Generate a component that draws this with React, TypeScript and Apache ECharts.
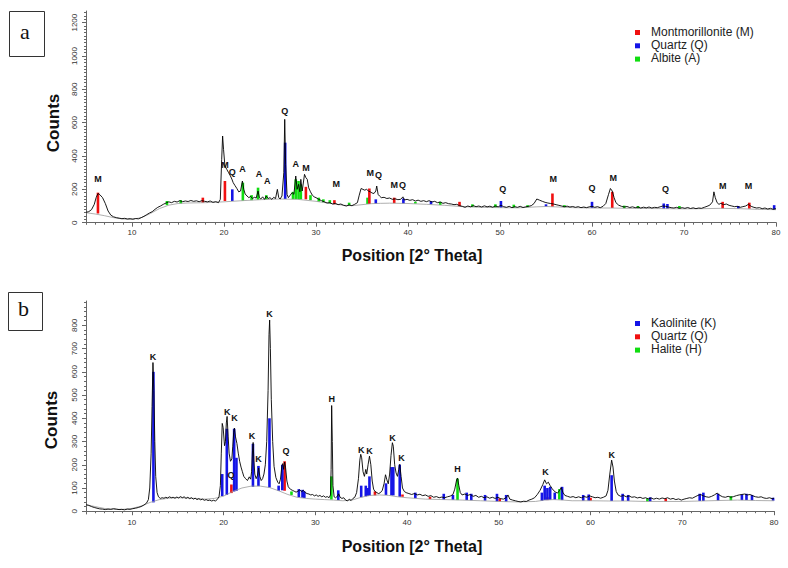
import React, { useEffect, useRef } from "react";
import * as echarts from "echarts";

// ---------- Panel a (Montmorillonite / Quartz / Albite) ----------
const aLine: number[][] = [
  [5.0,62],[5.3,66],[5.6,78],[5.9,110],[6.1,150],[6.3,175],[6.5,168],[6.8,150],[7.1,115],[7.4,70],[7.7,45],[8.0,35],[8.3,30],[8.6,27],[8.9,24],[9.2,26],[9.5,22],[9.8,24],[10.1,21],[10.4,25],[10.7,23],[11.0,30],[11.3,38],[11.6,48],[11.9,58],[12.2,66],[12.5,80],[12.8,92],[13.1,100],[13.4,110],[13.7,118],[14.0,125],[14.3,120],[14.6,128],[14.9,124],[15.2,132],[15.5,126],[15.8,130],[16.1,127],[16.4,133],[16.7,128],[17.0,131],[17.3,126],[17.6,132],[17.9,128],[18.2,125],[18.5,130],[18.8,122],[19.1,126],[19.4,120],[19.6,140],[19.75,380],[19.85,520],[19.95,440],[20.1,340],[20.3,320],[20.5,300],[20.7,280],[20.85,262],[21.0,240],[21.2,222],[21.4,205],[21.6,185],[21.8,190],[22.0,250],[22.15,200],[22.3,172],[22.5,160],[22.7,150],[22.9,158],[23.1,145],[23.3,152],[23.5,148],[23.7,190],[23.85,150],[24.0,142],[24.2,155],[24.4,140],[24.6,160],[24.8,145],[25.0,150],[25.2,140],[25.4,152],[25.6,145],[25.8,200],[25.95,150],[26.1,142],[26.3,160],[26.5,300],[26.6,620],[26.7,350],[26.85,170],[27.0,150],[27.2,165],[27.4,180],[27.6,170],[27.8,280],[27.95,200],[28.1,230],[28.25,185],[28.35,260],[28.5,190],[28.65,250],[28.75,290],[28.9,270],[29.05,260],[29.2,210],[29.4,185],[29.6,165],[29.8,155],[30.0,150],[30.3,140],[30.6,132],[30.9,125],[31.2,118],[31.5,120],[31.8,112],[32.1,116],[32.4,108],[32.7,112],[33.0,104],[33.3,100],[33.6,106],[33.9,102],[34.2,110],[34.5,120],[34.7,165],[34.9,205],[35.1,200],[35.3,195],[35.5,200],[35.7,190],[35.9,185],[36.1,178],[36.3,175],[36.5,190],[36.6,220],[36.75,170],[36.9,160],[37.1,150],[37.4,152],[37.7,145],[38.0,148],[38.3,140],[38.6,143],[38.9,138],[39.2,140],[39.45,155],[39.6,136],[39.9,140],[40.2,134],[40.5,138],[40.8,130],[41.1,135],[41.4,128],[41.7,132],[42.0,126],[42.3,132],[42.6,124],[42.9,128],[43.2,120],[43.5,124],[43.8,116],[44.1,120],[44.4,114],[44.7,112],[45.0,108],[45.3,110],[45.6,102],[45.9,98],[46.2,92],[46.5,100],[46.8,95],[47.1,102],[47.4,96],[47.7,100],[48.0,94],[48.3,101],[48.6,95],[48.9,99],[49.2,93],[49.5,100],[49.8,95],[50.1,104],[50.4,96],[50.7,92],[51.0,98],[51.3,90],[51.6,96],[51.9,92],[52.2,98],[52.5,91],[52.8,95],[53.1,98],[53.4,102],[53.7,115],[54.0,142],[54.3,135],[54.6,128],[54.9,122],[55.2,118],[55.5,115],[55.8,112],[56.1,108],[56.4,104],[56.7,100],[57.0,96],[57.3,99],[57.6,94],[57.9,97],[58.2,92],[58.5,96],[58.8,90],[59.1,94],[59.4,90],[59.7,95],[60.0,98],[60.3,92],[60.6,96],[60.9,90],[61.2,98],[61.5,115],[61.8,170],[62.0,205],[62.2,190],[62.4,150],[62.6,120],[62.9,105],[63.2,98],[63.5,94],[63.8,97],[64.1,91],[64.4,95],[64.7,90],[65.0,94],[65.3,88],[65.6,93],[65.9,89],[66.2,94],[66.5,88],[66.8,92],[67.1,90],[67.4,95],[67.7,100],[68.0,98],[68.3,94],[68.6,90],[68.9,88],[69.2,92],[69.5,86],[69.8,90],[70.1,86],[70.4,91],[70.7,85],[71.0,89],[71.3,84],[71.6,88],[71.9,86],[72.2,92],[72.5,98],[72.8,105],[73.1,125],[73.25,185],[73.4,150],[73.6,120],[73.8,110],[74.0,116],[74.3,108],[74.6,112],[74.9,104],[75.2,100],[75.5,96],[75.8,98],[76.1,92],[76.4,96],[76.7,100],[77.0,110],[77.3,98],[77.6,92],[77.9,88],[78.2,90],[78.5,84],[78.8,88],[79.1,82],[79.4,86],[79.7,80],[80.0,84]
];
const aBackground: number[][] = [
  [5,60],[6,52],[7,42],[8,30],[9,22],[10,20],[11,30],[12,55],[13,85],[14,105],[15,115],[16,118],[18,120],[20,125],[22,132],[24,138],[26,142],[28,140],[30,128],[32,112],[33,104],[34,102],[35,108],[36,114],[37,116],[38,117],[40,115],[42,110],[44,104],[46,96],[48,92],[50,90],[52,89],[54,95],[55,97],[56,95],[58,90],[60,88],[62,88],[64,86],[66,85],[68,84],[70,83],[72,84],[74,86],[76,84],[78,80],[80,78]
];
// sticks: [position, base, top]
const aMontmorillonite: number[][] = [
  [6.3,55,180],[17.7,120,150],[20.1,130,250],[28.9,140,215],[32.0,110,135],[35.8,112,205],[38.5,117,150],[45.6,98,125],[55.7,96,175],[62.2,88,185],[74.2,86,125],[77.1,84,120]
];
const aQuartz: number[][] = [
  [20.9,130,200],[26.65,142,480],[36.5,114,140],[39.5,115,145],[42.5,110,130],[50.1,90,130],[55.0,97,110],[60.0,88,125],[67.8,84,115],[68.2,84,112],[75.9,84,100],[79.8,78,105]
];
const aAlbite: number[][] = [
  [13.8,105,130],[15.3,115,135],[22.05,132,240],[23.0,135,165],[23.7,138,210],[24.6,140,165],[27.5,141,185],[27.8,141,260],[28.1,140,250],[28.35,140,230],[29.4,135,165],[30.3,126,150],[30.8,122,140],[31.5,115,135],[33.6,103,120],[35.6,112,150],[40.8,114,125],[43.5,106,125],[47.0,94,110],[49.5,91,110],[51.5,89,108],[53.0,92,105],[57.0,92,105],[63.5,87,102],[65.0,86,100],[69.5,83,100]
];
const aPeakPos: number[][] = [
  [6.3,260],[20.1,346],[20.9,304],[22.0,320],[23.8,290],[24.7,250],[26.6,670],[27.8,350],[28.9,326],[32.2,234],[35.9,300],[36.8,284],[38.5,224],[39.4,224],[50.3,200],[55.8,260],[60.0,210],[62.3,270],[68.0,200],[74.2,220],[77.0,220]
];
const aPeakText: string[] = ["M","M","Q","A","A","A","Q","A","M","M","M","Q","M","Q","Q","M","Q","M","Q","M","M"];
const aLegend = ["Montmorillonite (M)", "Quartz (Q)", "Albite (A)"];
const aYTicks = [0, 200, 400, 600, 800, 1000, 1200];

// ---------- Panel b (Kaolinite / Quartz / Halite) ----------
const bLine: number[][] = [
  [5.0,28],[5.3,25],[5.6,20],[5.9,16],[6.2,13],[6.5,10],[6.8,9],[7.1,7],[7.4,9],[7.7,8],[8.0,11],[8.3,9],[8.6,7],[8.9,8],[9.2,6],[9.5,9],[9.8,8],[10.1,11],[10.4,13],[10.7,16],[11.0,20],[11.3,26],[11.6,35],[11.8,50],[11.95,100],[12.1,250],[12.2,450],[12.3,640],[12.4,520],[12.5,300],[12.6,150],[12.75,80],[12.9,62],[13.1,55],[13.3,58],[13.5,56],[13.7,60],[13.9,57],[14.1,62],[14.3,58],[14.5,60],[14.7,56],[14.9,61],[15.1,57],[15.3,63],[15.5,58],[15.7,62],[15.9,55],[16.1,60],[16.3,54],[16.5,58],[16.7,52],[16.9,56],[17.1,50],[17.3,54],[17.5,49],[17.7,52],[17.9,47],[18.1,50],[18.3,46],[18.5,48],[18.7,44],[18.9,47],[19.1,44],[19.3,50],[19.5,62],[19.65,110],[19.75,250],[19.85,378],[19.95,360],[20.1,282],[20.2,300],[20.3,380],[20.38,408],[20.5,320],[20.6,250],[20.75,215],[20.9,225],[21.0,280],[21.1,340],[21.18,358],[21.3,320],[21.45,292],[21.6,250],[21.75,215],[21.9,190],[22.05,170],[22.2,150],[22.4,140],[22.6,132],[22.8,148],[22.95,138],[23.05,170],[23.15,260],[23.22,296],[23.3,220],[23.4,160],[23.55,140],[23.7,155],[23.82,186],[23.95,150],[24.1,132],[24.25,140],[24.4,160],[24.55,200],[24.7,300],[24.85,520],[24.95,760],[25.02,823],[25.1,700],[25.2,480],[25.35,300],[25.5,193],[25.7,145],[25.9,125],[26.05,118],[26.2,138],[26.35,195],[26.45,205],[26.55,180],[26.65,212],[26.75,190],[26.9,130],[27.05,105],[27.3,94],[27.5,90],[27.7,86],[27.9,82],[28.1,86],[28.3,92],[28.5,84],[28.7,90],[28.9,80],[29.1,76],[29.3,74],[29.5,70],[29.7,72],[29.9,66],[30.1,70],[30.3,64],[30.5,68],[30.7,62],[30.9,66],[31.1,60],[31.3,63],[31.5,58],[31.65,70],[31.72,180],[31.78,455],[31.85,300],[31.92,110],[32.05,62],[32.2,58],[32.4,64],[32.55,75],[32.7,60],[32.9,55],[33.1,58],[33.3,48],[33.5,44],[33.7,52],[33.9,46],[34.1,55],[34.3,60],[34.5,80],[34.7,140],[34.85,220],[34.95,245],[35.05,230],[35.2,170],[35.35,150],[35.5,180],[35.6,160],[35.75,200],[35.9,237],[36.05,200],[36.2,130],[36.35,95],[36.5,85],[36.7,80],[36.9,76],[37.1,80],[37.3,90],[37.5,120],[37.65,157],[37.8,135],[37.95,118],[38.1,160],[38.25,240],[38.4,295],[38.5,280],[38.65,200],[38.8,165],[38.95,150],[39.1,180],[39.2,202],[39.35,150],[39.5,100],[39.7,85],[39.9,80],[40.2,76],[40.5,72],[40.8,76],[41.1,70],[41.4,73],[41.7,67],[42.0,70],[42.3,64],[42.6,67],[42.9,60],[43.2,63],[43.5,58],[43.8,61],[44.1,58],[44.4,62],[44.7,65],[45.0,72],[45.2,95],[45.4,135],[45.5,143],[45.65,110],[45.8,80],[46.0,70],[46.3,74],[46.6,68],[46.9,72],[47.2,64],[47.5,68],[47.8,60],[48.1,64],[48.4,58],[48.7,62],[49.0,56],[49.3,60],[49.6,55],[49.9,60],[50.2,54],[50.5,52],[50.8,58],[51.0,70],[51.2,52],[51.5,48],[51.8,45],[52.1,42],[52.4,40],[52.7,43],[53.0,42],[53.3,48],[53.6,52],[53.9,58],[54.2,72],[54.5,90],[54.8,115],[55.0,135],[55.2,118],[55.4,125],[55.6,110],[55.8,98],[56.0,88],[56.2,82],[56.4,78],[56.6,88],[56.8,102],[57.0,80],[57.2,68],[57.5,64],[57.8,60],[58.1,63],[58.4,58],[58.7,62],[59.0,58],[59.3,63],[59.6,60],[59.9,66],[60.2,62],[60.5,58],[60.8,60],[61.1,56],[61.4,60],[61.7,66],[61.9,90],[62.1,160],[62.3,220],[62.45,190],[62.6,130],[62.8,85],[63.0,70],[63.3,64],[63.6,68],[63.9,62],[64.2,66],[64.5,60],[64.8,62],[65.1,57],[65.4,60],[65.7,55],[66.0,58],[66.3,53],[66.6,57],[66.9,52],[67.2,56],[67.5,52],[67.8,57],[68.1,54],[68.4,58],[68.7,52],[69.0,55],[69.3,50],[69.6,53],[69.9,48],[70.2,52],[70.5,55],[70.8,58],[71.1,56],[71.4,62],[71.7,68],[72.0,72],[72.3,66],[72.6,62],[72.9,60],[73.2,64],[73.5,70],[73.8,78],[74.1,68],[74.4,62],[74.7,60],[75.0,64],[75.3,60],[75.6,63],[75.9,67],[76.2,70],[76.5,72],[76.8,74],[77.1,70],[77.4,72],[77.7,66],[78.0,62],[78.3,60],[78.6,62],[78.9,57],[79.2,55],[79.5,58],[79.8,54],[80.0,56]
];
const bBackground: number[][] = [
  [5,28],[6,20],[7,12],[8,8],[9,8],[10,12],[11,22],[12,38],[13,50],[14,56],[15,58],[16,57],[17,55],[18,52],[19,55],[20,65],[21,85],[22,100],[23,108],[24,108],[25,102],[26,88],[27,72],[28,60],[29,55],[30,52],[31,50],[32,48],[33,45],[34,48],[35,60],[36,68],[37,70],[38,68],[39,62],[40,58],[42,52],[44,50],[46,48],[48,45],[50,42],[52,40],[54,42],[55,48],[56,50],[57,48],[58,45],[60,45],[62,44],[64,44],[66,42],[68,42],[70,42],[72,44],[74,46],[76,48],[78,46],[80,45]
];
const bKaolinite: number[][] = [
  [12.35,38,600],[19.85,65,160],[20.35,70,355],[21.15,85,355],[21.4,88,230],[23.2,105,290],[23.8,108,195],[25.0,102,400],[26.0,88,110],[26.4,90,200],[28.2,60,95],[28.6,58,92],[28.8,57,85],[32.5,48,90],[35.0,60,110],[35.5,64,110],[35.7,66,100],[35.9,67,150],[37.7,70,120],[38.3,68,190],[38.5,68,190],[39.2,62,200],[40.9,56,80],[44.0,50,75],[45.0,49,70],[46.5,48,80],[47.0,47,75],[48.5,45,70],[49.8,42,75],[50.8,41,70],[54.7,44,80],[55.0,48,110],[55.3,48,100],[55.6,49,105],[56.1,50,80],[56.9,48,105],[59.2,45,70],[59.8,45,72],[62.3,44,155],[63.5,44,75],[64.1,44,70],[66.5,42,60],[71.9,44,75],[72.3,44,80],[73.9,46,75],[76.5,48,72],[77.0,48,75],[77.6,47,70],[79.9,45,58]
];
const bQuartz: number[][] = [
  [20.85,78,115],[26.65,88,215],[36.5,68,85],[39.5,62,72],[42.5,52,62],[50.1,42,55],[55.3,48,60],[60.0,45,58],[68.2,42,55]
];
const bHalite: number[][] = [
  [27.4,70,85],[31.75,50,150],[45.5,48,140],[56.6,50,95],[66.2,42,55],[75.3,47,65]
];
const bPeakPos: number[][] = [
  [12.3,663],[20.4,429],[21.2,403],[20.8,158],[23.1,325],[23.8,225],[25.0,851],[26.8,260],[31.8,482],[35.0,265],[35.9,258],[38.4,315],[39.4,229],[45.5,182],[55.1,168],[62.3,243]
];
const bPeakText: string[] = ["K","K","K","Q","K","K","K","Q","H","K","K","K","K","H","K","K"];
const bLegend = ["Kaolinite (K)", "Quartz (Q)", "Halite (H)"];
const bYTicks = [0, 100, 200, 300, 400, 500, 600, 700, 800];

const xTicks = [10, 20, 30, 40, 50, 60, 70, 80];
const xMinorTicks = Array.from({ length: 76 }, (_, i) => 5 + i);
const aYMinor = Array.from({ length: 64 }, (_, i) => i * 20);
const bYMinor = Array.from({ length: 46 }, (_, i) => i * 20);

const RED = "#f01010";
const BLUE = "#1414e6";
const GREEN = "#10dd10";
const AXIS = "#666";
const FONT = "Liberation Sans, Arial, sans-serif";

function stickSeries(data: number[][], color: string, xi: number) {
  return {
    type: "custom",
    xAxisIndex: xi,
    yAxisIndex: xi,
    silent: true,
    encode: { x: 0, y: [1, 2] },
    data,
    renderItem: (_p: any, api: any) => {
      const x = api.value(0);
      const p0 = api.coord([x, api.value(1)]);
      const p1 = api.coord([x, api.value(2)]);
      return {
        type: "rect",
        shape: { x: p0[0] - 1.3, y: p1[1], width: 2.6, height: p0[1] - p1[1] },
        style: { fill: color },
      };
    },
  };
}

function labelSeries(pos: number[][], text: string[], xi: number) {
  return {
    type: "custom",
    xAxisIndex: xi,
    yAxisIndex: xi,
    silent: true,
    encode: { x: 0, y: 1 },
    data: pos,
    renderItem: (p: any, api: any) => {
      const pt = api.coord([api.value(0), api.value(1)]);
      return {
        type: "text",
        x: pt[0],
        y: pt[1],
        style: {
          text: text[p.dataIndex],
          fontSize: 9,
          fontWeight: "bold",
          fontFamily: FONT,
          fill: "#111",
          align: "center",
          verticalAlign: "middle",
        },
      };
    },
  };
}

function xAxes(grid: number) {
  return [
    {
      type: "value", gridIndex: grid, min: 5, max: 80, position: "bottom",
      axisLine: { show: true, lineStyle: { color: AXIS, width: 1 } },
      axisTick: { show: true, customValues: xTicks, length: 4, lineStyle: { color: AXIS } },
      axisLabel: { customValues: xTicks, fontSize: 8, color: "#333", margin: 4, fontFamily: FONT },
      splitLine: { show: false },
    },
    {
      type: "value", gridIndex: grid, min: 5, max: 80, position: "bottom",
      axisLine: { show: false },
      axisTick: { show: true, customValues: xMinorTicks, length: 2, lineStyle: { color: AXIS } },
      axisLabel: { show: false },
      splitLine: { show: false },
    },
  ];
}

function yAxes(grid: number, min: number, max: number, ticks: number[], minor: number[]) {
  return [
    {
      type: "value", gridIndex: grid, min, max, position: "left",
      axisLine: { show: true, lineStyle: { color: AXIS, width: 1 } },
      axisTick: { show: true, customValues: ticks, length: 4, lineStyle: { color: AXIS } },
      axisLabel: {
        customValues: ticks, fontSize: 8, color: "#333", rotate: 90, margin: 8, fontFamily: FONT,
        formatter: (v: number) => String(v),
      },
      splitLine: { show: false },
    },
    {
      type: "value", gridIndex: grid, min, max, position: "left",
      axisLine: { show: false },
      axisTick: { show: true, customValues: minor, length: 2, lineStyle: { color: AXIS } },
      axisLabel: { show: false },
      splitLine: { show: false },
    },
  ];
}

function legendGraphics(items: string[], colors: string[], top: number) {
  const out: any[] = [];
  items.forEach((t, i) => {
    const y = top + i * 13.3;
    out.push({ type: "rect", left: 635, top: y - 2.5, shape: { width: 5, height: 5 }, style: { fill: colors[i] } });
    out.push({
      type: "text", left: 651, top: y - 7,
      style: { text: t, fontSize: 12, fontFamily: FONT, fill: "#222" },
    });
  });
  return out;
}

export default function App() {
  const ref = useRef<HTMLDivElement>(null);
  useEffect(() => {
    if (!ref.current) return;
    const chart = echarts.init(ref.current, undefined, { renderer: "svg" });
    const option: any = {
      animation: false,
      backgroundColor: "#fff",
      grid: [
        { left: 86, top: 11, width: 690, height: 213 },
        { left: 86, top: 301, width: 688, height: 213 },
      ],
      xAxis: [...xAxes(0), ...xAxes(1)],
      yAxis: [
        ...yAxes(0, -8, 1270, aYTicks, aYMinor),
        ...yAxes(1, -12, 905, bYTicks, bYMinor),
      ],
      series: [
        { type: "line", xAxisIndex: 0, yAxisIndex: 0, data: aBackground, showSymbol: false, silent: true, lineStyle: { color: "#9a9a9a", width: 0.8 } },
        { type: "line", xAxisIndex: 0, yAxisIndex: 0, data: aLine, showSymbol: false, silent: true, lineStyle: { color: "#000", width: 0.9 } },
        stickSeries(aAlbite, GREEN, 0),
        stickSeries(aQuartz, BLUE, 0),
        stickSeries(aMontmorillonite, RED, 0),
        labelSeries(aPeakPos, aPeakText, 0),
        { type: "line", xAxisIndex: 2, yAxisIndex: 2, data: bBackground, showSymbol: false, silent: true, lineStyle: { color: "#9a9a9a", width: 0.8 } },
        { type: "line", xAxisIndex: 2, yAxisIndex: 2, data: bLine, showSymbol: false, silent: true, lineStyle: { color: "#000", width: 0.9 } },
        stickSeries(bHalite, GREEN, 2),
        stickSeries(bQuartz, RED, 2),
        stickSeries(bKaolinite, BLUE, 2),
        labelSeries(bPeakPos, bPeakText, 2),
      ],
      graphic: [
        { type: "rect", left: 9, top: 11, shape: { width: 35, height: 45 }, style: { fill: "#fff", stroke: "#333", lineWidth: 1 } },
        { type: "text", left: 20, top: 20, style: { text: "a", fontSize: 22, fontFamily: "Liberation Serif, serif", fill: "#111" } },
        { type: "rect", left: 8, top: 292, shape: { width: 34, height: 38 }, style: { fill: "#fff", stroke: "#333", lineWidth: 1 } },
        { type: "text", left: 18, top: 297, style: { text: "b", fontSize: 22, fontFamily: "Liberation Serif, serif", fill: "#111" } },
        { type: "text", x: 53, y: 123, rotation: Math.PI / 2, style: { text: "Counts", fontSize: 17, fontWeight: "bold", fontFamily: FONT, fill: "#111", align: "center", verticalAlign: "middle" } },
        { type: "text", x: 51, y: 420, rotation: Math.PI / 2, style: { text: "Counts", fontSize: 17, fontWeight: "bold", fontFamily: FONT, fill: "#111", align: "center", verticalAlign: "middle" } },
        { type: "text", x: 412, y: 255, style: { text: "Position [2° Theta]", fontSize: 16, fontWeight: "bold", fontFamily: FONT, fill: "#111", align: "center", verticalAlign: "middle" } },
        { type: "text", x: 412, y: 546, style: { text: "Position [2° Theta]", fontSize: 16, fontWeight: "bold", fontFamily: FONT, fill: "#111", align: "center", verticalAlign: "middle" } },
        ...legendGraphics(aLegend, [RED, BLUE, GREEN], 32.5),
        ...legendGraphics(bLegend, [BLUE, RED, GREEN], 323.5),
      ],
    };
    chart.setOption(option);
    return () => chart.dispose();
  }, []);
  return <div ref={ref} style={{ position: "fixed", left: 0, top: 0, width: 788, height: 568, background: "#fff" }} />;
}
